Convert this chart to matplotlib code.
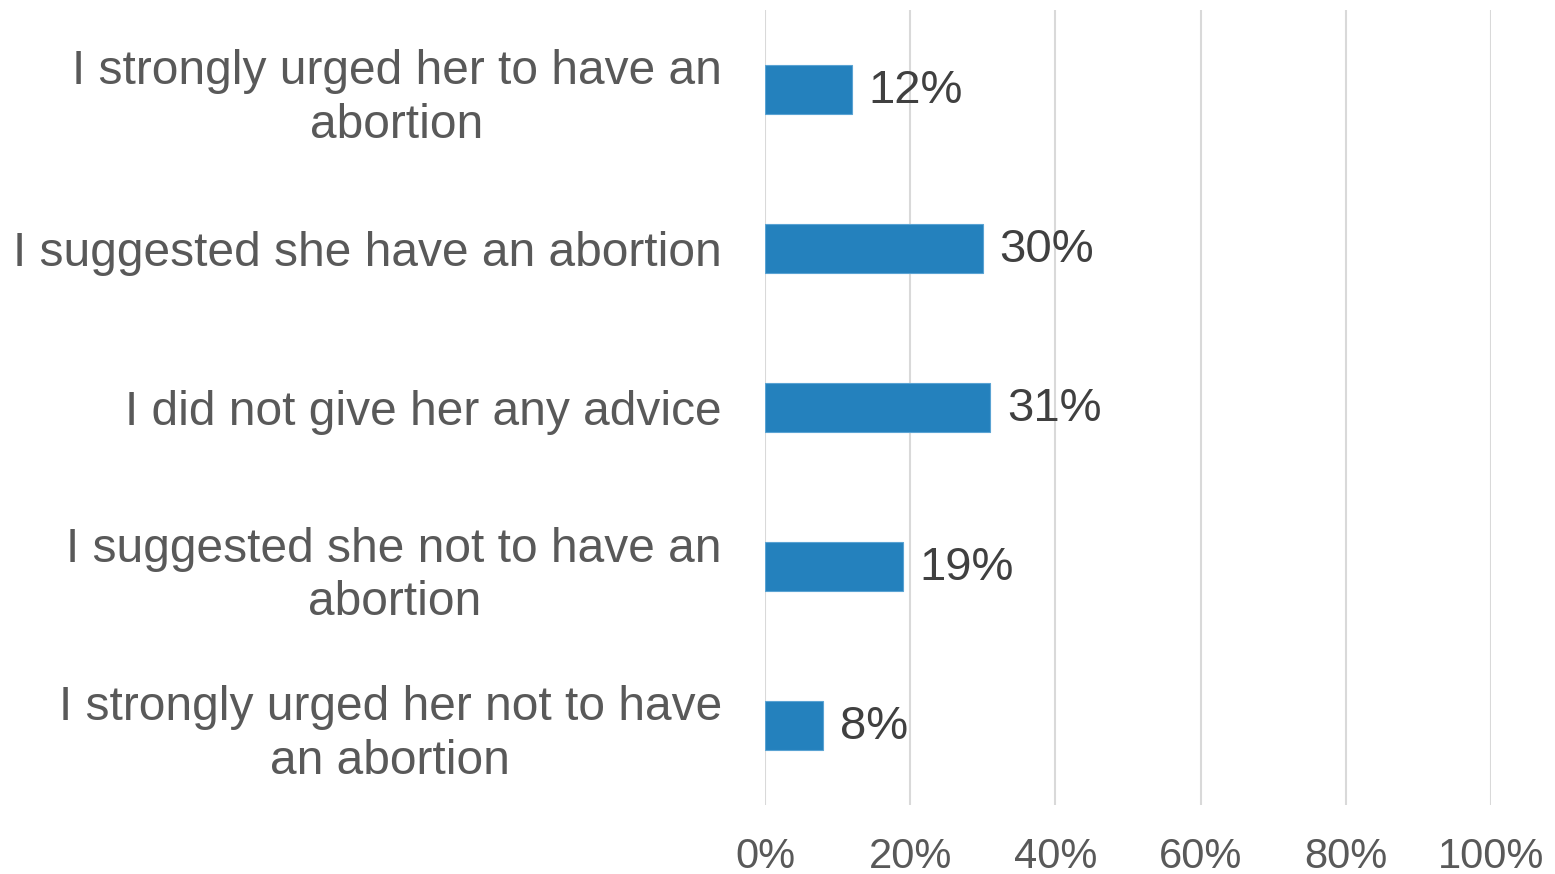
import matplotlib.pyplot as plt
import numpy as np

plt.rcParams["font.family"] = ["Liberation Sans", "DejaVu Sans"]

categories = [
    "I strongly urged her to have an\nabortion",
    "I suggested she have an abortion",
    "I did not give her any advice",
    "I suggested she not to have an\nabortion",
    "I strongly urged her not to have\nan abortion",
]
values = [12, 30, 31, 19, 8]
ticks = [0, 20, 40, 60, 80, 100]

fig = plt.figure(figsize=(15.55, 8.74), dpi=100)
ax = fig.add_axes([765 / 1555, 1 - 805 / 874, (1491 - 765) / 1555, (805 - 10) / 874])

y = np.arange(len(categories))
ax.barh(y, values, height=0.31, color="#2481bd", edgecolor="#5aa3d3", linewidth=0.8, zorder=3)

for yi, v in zip(y, values):
    ax.text(v + 2.3, yi + 0.01, f"{v}%", va="center", ha="left", fontsize=34, color="#404040")

ax.set_xlim(0, 100)
ax.set_ylim(len(categories) - 0.5, -0.5)
ax.set_xticks(ticks)
ax.set_xticklabels([f"{t}%" for t in ticks], fontsize=30, color="#595959")
ax.set_yticks(y)
ax.set_yticklabels(categories, fontsize=34.5, color="#595959", ha="right",
                   multialignment="center", linespacing=1.25)
ax.tick_params(axis="y", length=0, pad=31)
ax.tick_params(axis="x", length=0, pad=23)

ax.grid(axis="x", color="#d9d9d9", linewidth=1.5, zorder=0)
for s in ax.spines.values():
    s.set_visible(False)

fig.savefig("out.png", dpi=100)
